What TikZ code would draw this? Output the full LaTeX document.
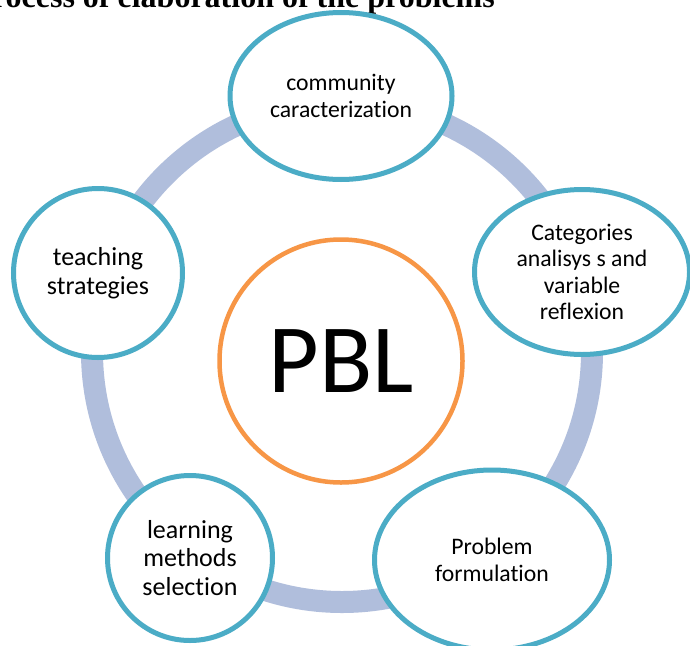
\documentclass[tikz,border=0pt]{standalone}
\usepackage{fontspec}
\setmainfont{Carlito}[Ligatures={NoCommon}]
\newfontfamily\titlefont{Liberation Serif}
\usetikzlibrary{shapes.geometric}
\definecolor{aqua}{RGB}{75,172,198}
\definecolor{orng}{RGB}{247,150,70}
\definecolor{ringc}{RGB}{176,190,220}
\tikzset{
  bubble/.style={ellipse, draw=aqua, line width=5pt, fill=white, inner sep=0pt, align=center, text=black},
  bigtxt/.style={font=\fontsize{26}{28.5}\selectfont},
  smalltxt/.style={font=\fontsize{23.7}{26.5}\selectfont},
}
\begin{document}
\begin{tikzpicture}[x=1pt,y=-1pt]
\useasboundingbox (0,0) rectangle (690,645);
\clip (0,0) rectangle (690,645);
\fill[white] (0,0) rectangle (690,645);
\node[anchor=base east, inner sep=0pt, font=\titlefont\bfseries\fontsize{32}{34}\selectfont] (title) at (495,7) {Process of elaboration of the problems};
\coordinate (rc) at (342,352);
\draw[ringc, line width=22pt] (rc) circle [radius=250pt];
\node[bubble, smalltxt, minimum width=222pt, minimum height=167pt] (comm) at (341,96) {community\\caracterization};
\node[bubble, smalltxt, minimum width=215pt, minimum height=165pt] (cat) at (582,272) {Categories\\analisys s and\\variable\\reflexion};
\node[bubble, smalltxt, minimum width=235pt, minimum height=180pt] (prob) at (492,560) {Problem\\formulation};
\node[bubble, bigtxt, minimum width=165pt, minimum height=165pt] (learn) at (190,558) {learning\\methods\\selection};
\node[bubble, bigtxt, minimum width=169pt, minimum height=169pt] (teach) at (98,273) {teaching\\strategies};
\node[circle, draw=orng, line width=4.5pt, fill=white, inner sep=0pt, minimum size=243pt, font=\fontsize{98}{100}\selectfont] (pbl) at (341,361) {PBL};
\end{tikzpicture}
\end{document}
